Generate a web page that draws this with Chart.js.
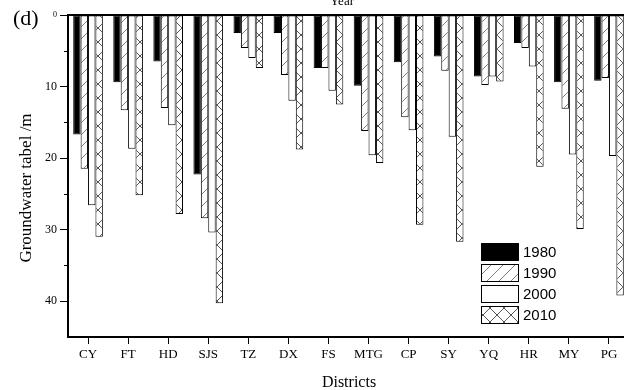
<!DOCTYPE html>
<html>
<head>
<meta charset="utf-8">
<script src="https://cdn.jsdelivr.net/npm/chart.js@4.4.1/dist/chart.umd.min.js"></script>
<style>
html,body{margin:0;padding:0;background:#fff;overflow:hidden;width:624px;height:390px;}
canvas{display:block;}
</style>
</head>
<body>
<canvas id="c" width="640" height="390"></canvas>
<script>
const districts = ['CY','FT','HD','SJS','TZ','DX','FS','MTG','CP','SY','YQ','HR','MY','PG'];
const years = ['1980','1990','2000','2010'];
const v1980 = [16.7, 9.4, 6.5, 22.3, 2.5, 2.5, 7.4, 9.9, 6.6, 5.8, 8.6, 3.9, 9.4, 9.2];
const v1990 = [21.5, 13.3, 13.0, 28.4, 4.6, 8.4, 7.4, 16.2, 14.3, 7.8, 9.8, 4.6, 13.1, 8.8];
const v2000 = [26.6, 18.7, 15.4, 30.4, 6.0, 12.0, 10.6, 19.6, 16.1, 17.0, 8.6, 7.2, 19.5, 19.7];
const v2010 = [31.0, 25.2, 27.8, 40.3, 7.4, 18.8, 12.5, 20.7, 29.3, 31.7, 9.3, 21.2, 29.9, 39.2];
const yTicks = [0, 10, 20, 30, 40];
const yMinorTicks = [5, 15, 25, 35];

const canvas = document.getElementById('c');
const ctx = canvas.getContext('2d');

function makePattern(size, color, drawFn) {
  const c = document.createElement('canvas');
  c.width = size; c.height = size;
  const g = c.getContext('2d');
  g.fillStyle = '#fff';
  g.fillRect(0, 0, size, size);
  g.strokeStyle = color;
  g.lineWidth = 1;
  drawFn(g, size);
  return ctx.createPattern(c, 'repeat');
}
function fwd(g, s) {
  g.beginPath();
  g.moveTo(0, s); g.lineTo(s, 0);
  g.moveTo(-1, 1); g.lineTo(1, -1);
  g.moveTo(s - 1, s + 1); g.lineTo(s + 1, s - 1);
  g.stroke();
}
function back(g, s) {
  g.beginPath();
  g.moveTo(0, 0); g.lineTo(s, s);
  g.moveTo(-1, s - 1); g.lineTo(1, s + 1);
  g.moveTo(s - 1, -1); g.lineTo(s + 1, 1);
  g.stroke();
}
const hatch = makePattern(12, '#808080', fwd);
const cross = makePattern(14, '#555', (g, s) => { fwd(g, s); back(g, s); });

const fills = ['#000', hatch, '#fff', cross];
const series = [v1980, v1990, v2000, v2010];

const SERIF = '"Liberation Serif", "Times New Roman", serif';

const extras = {
  id: 'extras',
  afterDraw(chart) {
    const c = chart.ctx;
    const a = chart.chartArea;
    const ys = chart.scales.y;
    c.save();
    // top axis line
    c.strokeStyle = '#000';
    c.lineWidth = 2;
    c.beginPath();
    c.moveTo(a.left - 1, a.top);
    c.lineTo(a.right, a.top);
    c.stroke();
    // minor y ticks (shorter)
    c.lineWidth = 1;
    c.beginPath();
    yMinorTicks.forEach(v => {
      const py = Math.round(ys.getPixelForValue(v)) + 0.5;
      c.moveTo(a.left - 4, py);
      c.lineTo(a.left, py);
    });
    c.stroke();
    // (d) label
    c.fillStyle = '#000';
    c.font = '22px ' + SERIF;
    c.textAlign = 'left';
    c.textBaseline = 'middle';
    c.fillText('(d)', 13, 19);
    // Year (top axis title, cut off)
    c.font = '13px ' + SERIF;
    c.textAlign = 'center';
    c.textBaseline = 'alphabetic';
    c.fillText('Year', 342, 5);
    // axis titles
    c.font = '16px ' + SERIF;
    c.textAlign = 'center';
    c.textBaseline = 'alphabetic';
    c.fillText('Districts', 349, 387);
    c.save();
    c.translate(31, 188);
    c.rotate(-Math.PI / 2);
    c.font = '17px ' + SERIF;
    c.textBaseline = 'alphabetic';
    c.fillText('Groundwater tabel /m', 0, 0);
    c.restore();
    // legend
    const lx = 481, ly = 243, bw = 37, bh = 17, gap = 21;
    chart.data.datasets.forEach((ds, i) => {
      const y = ly + i * gap;
      c.fillStyle = ds.backgroundColor;
      c.fillRect(lx, y, bw, bh);
      c.strokeStyle = '#000';
      c.lineWidth = 1;
      c.strokeRect(lx + 0.5, y + 0.5, bw, bh);
      c.fillStyle = '#000';
      c.font = '15px "Liberation Sans", Arial, sans-serif';
      c.textAlign = 'left';
      c.textBaseline = 'middle';
      c.fillText(ds.label, lx + bw + 5, y + bh / 2 + 1);
    });
    c.restore();
  }
};

new Chart(canvas, {
  type: 'bar',
  data: {
    labels: districts,
    datasets: years.map((y, i) => ({
      label: y,
      data: series[i],
      backgroundColor: fills[i],
      borderColor: '#000',
      borderWidth: 1,
      borderSkipped: false,
      categoryPercentage: 0.74,
      barPercentage: 1.0
    }))
  },
  options: {
    responsive: false,
    animation: false,
    devicePixelRatio: 1,
    layout: { padding: { left: 0, right: 11, top: 15, bottom: 0 } },
    plugins: { legend: { display: false }, tooltip: { enabled: false } },
    scales: {
      x: {
        grid: { display: true, drawOnChartArea: false, drawTicks: true, tickLength: 7, color: '#000', lineWidth: 1, offset: false },
        border: { display: true, color: '#000', width: 2 },
        ticks: { color: '#000', font: { family: SERIF, size: 13 }, padding: 3, maxRotation: 0, autoSkip: false },
        title: { display: false },
        afterFit(scale) { scale.height = 53; }
      },
      y: {
        reverse: true,
        min: 0,
        max: 45,
        grid: {
          display: true, drawOnChartArea: false, drawTicks: true, tickLength: 8, lineWidth: 1,
          tickColor: (c) => (c.tick && yTicks.includes(c.tick.value)) ? '#000' : 'rgba(0,0,0,0)',
          color: '#000'
        },
        border: { display: true, color: '#000', width: 2 },
        ticks: {
          stepSize: 5,
          color: '#000',
          padding: 3,
          font: (c) => ({ family: SERIF, size: (c.tick && c.tick.value === 0) ? 8 : 12 }),
          callback: (v) => yTicks.includes(v) ? String(v) : ''
        },
        title: { display: false },
        afterFit(scale) { scale.width = 68; }
      }
    }
  },
  plugins: [extras]
});
</script>
</body>
</html>
